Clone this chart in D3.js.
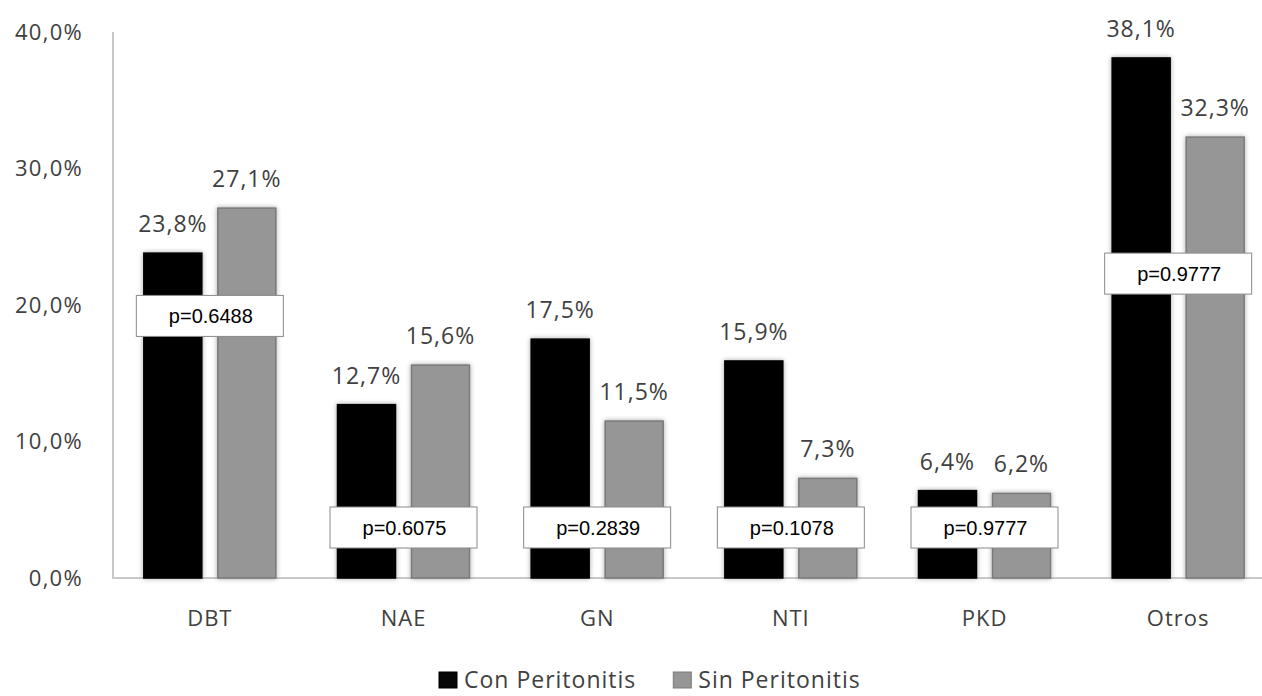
<!DOCTYPE html>
<html>
<head>
<meta charset="utf-8">
<script src="https://cdn.jsdelivr.net/npm/d3@7"></script>
<style>
  body { margin: 0; background: #fff; }
  svg { display: block; }
  text { font-family: 'Open Sans', sans-serif; fill: #404040; }
</style>
</head>
<body>
<div id="chart"></div>
<script>
// data
var categories = ['DBT', 'NAE', 'GN', 'NTI', 'PKD', 'Otros']
var series = ['Con Peritonitis', 'Sin Peritonitis']
var conPeritonitis = [23.8, 12.7, 17.5, 15.9, 6.4, 38.1]
var sinPeritonitis = [27.1, 15.6, 11.5, 7.3, 6.2, 32.3]
var pValues = ['p=0.6488', 'p=0.6075', 'p=0.2839', 'p=0.1078', 'p=0.9777', 'p=0.9777']
var pLevel = [19.2, 3.7, 3.7, 3.7, 3.7, 22.3] // where each p box sits, in % units
var yTicks = [0, 10, 20, 30, 40]

var colors = ['#050505', '#969696']
var strokes = ['#000', '#7a7a7a']

var width = 1262
var height = 696

var svg = d3.select('#chart')
  .append('svg')
  .attr('width', width)
  .attr('height', height)

// soft shadow around the bars
var filter = svg.append('defs').append('filter')
  .attr('id', 'glow')
  .attr('x', '-20%').attr('y', '-20%')
  .attr('width', '140%').attr('height', '140%')
filter.append('feDropShadow')
  .attr('dx', 0).attr('dy', 0)
  .attr('stdDeviation', 2.5)
  .attr('flood-color', '#000')
  .attr('flood-opacity', 0.35)

var x = d3.scaleBand()
  .domain(categories)
  .range([113, 1275])

var x1 = d3.scaleBand()
  .domain(series)
  .range([-66, 66])
  .paddingInner(16 / 74)

var y = d3.scaleLinear()
  .domain([0, 40])
  .range([578, 32])

// y axis labels
var yAxis = svg.append('g')
  .attr('transform', 'translate(113,0)')
  .call(d3.axisLeft(y).tickValues(yTicks).tickSize(0).tickPadding(30)
    .tickFormat(function (d) { return d3.format('.1f')(d).replace('.', ',') + '%' }))
yAxis.select('.domain').remove()
yAxis.selectAll('text')
  .attr('font-family', null)
  .style('font-size', '22px')
  .style('letter-spacing', '1.3px')
  .style('fill', '#404040')

// axis lines
svg.append('line')
  .attr('x1', 113).attr('x2', 113)
  .attr('y1', y(40)).attr('y2', y(0))
  .attr('stroke', '#c8c8c8')
  .attr('stroke-width', 2)
svg.append('line')
  .attr('x1', 112).attr('x2', width)
  .attr('y1', y(0)).attr('y2', y(0))
  .attr('stroke', '#c8c8c8')
  .attr('stroke-width', 2)

var rows = categories.map(function (c, i) {
  return { cat: c, vals: [conPeritonitis[i], sinPeritonitis[i]], p: pValues[i], pAt: pLevel[i] }
})

var groups = svg.selectAll('g.grp')
  .data(rows)
  .enter()
  .append('g')
  .attr('class', 'grp')
  .attr('transform', function (d) { return 'translate(' + (x(d.cat) + x.bandwidth() / 2) + ',0)' })

var bars = groups.selectAll('rect.bar')
  .data(function (d) { return d.vals.map(function (v, k) { return { s: series[k], k: k, v: v } }) })
  .enter()

bars.append('rect')
  .attr('class', 'bar')
  .attr('x', function (d) { return x1(d.s) })
  .attr('y', function (d) { return y(d.v) })
  .attr('width', x1.bandwidth())
  .attr('height', function (d) { return y(0) - y(d.v) })
  .attr('fill', function (d) { return colors[d.k] })
  .attr('stroke', function (d) { return strokes[d.k] })
  .attr('stroke-width', 1.5)
  .attr('filter', 'url(#glow)')

// value labels above the bars
bars.append('text')
  .attr('x', function (d) { return x1(d.s) + x1.bandwidth() / 2 })
  .attr('y', function (d) { return y(d.v) - 21 })
  .attr('text-anchor', 'middle')
  .style('font-size', '23px')
  .style('letter-spacing', '1px')
  .text(function (d) { return d3.format('.1f')(d.v).replace('.', ',') + '%' })

// p-value boxes
groups.append('rect')
  .attr('x', -73.5)
  .attr('y', function (d) { return y(d.pAt) - 20.5 })
  .attr('width', 147)
  .attr('height', 41)
  .attr('fill', '#fff')
  .attr('stroke', '#8a8a8a')
  .attr('stroke-width', 1)

groups.append('text')
  .attr('x', 1)
  .attr('y', function (d) { return y(d.pAt) })
  .attr('dy', '0.36em')
  .attr('text-anchor', 'middle')
  .style('font-family', "'Liberation Sans', Arial, sans-serif")
  .style('font-size', '20px')
  .style('fill', '#000')
  .text(function (d) { return d.p })

// category labels
groups.append('text')
  .attr('x', 0)
  .attr('y', 626)
  .attr('text-anchor', 'middle')
  .style('font-size', '22px')
  .style('letter-spacing', '1px')
  .text(function (d) { return d.cat })

// legend
var legend = svg.append('g')
var lx = 439
series.forEach(function (s, k) {
  legend.append('rect')
    .attr('x', lx)
    .attr('y', 672)
    .attr('width', 18)
    .attr('height', 16)
    .attr('fill', colors[k])
    .attr('stroke', strokes[k])
  var t = legend.append('text')
    .attr('x', lx + 25)
    .attr('y', 688)
    .style('font-size', '23px')
    .style('letter-spacing', '1px')
    .text(s)
  lx = lx + 25 + t.node().getComputedTextLength() + 37
})
</script>
</body>
</html>
